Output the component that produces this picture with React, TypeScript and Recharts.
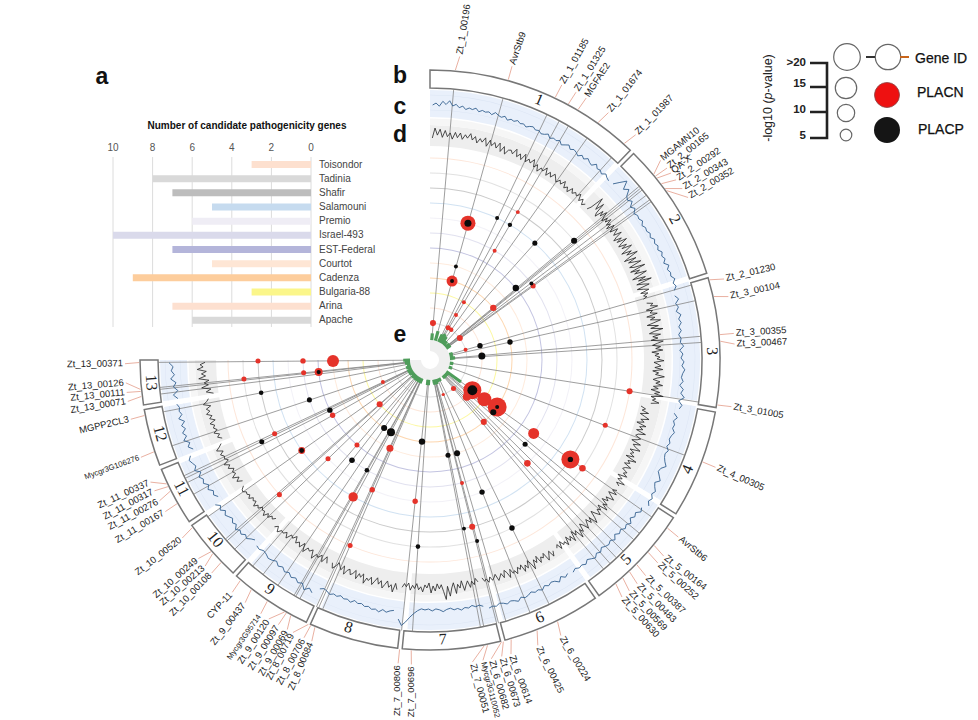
import React from "react";
import {
  Bar,
  BarChart,
  CartesianGrid,
  Pie,
  PieChart,
  PolarAngleAxis,
  PolarRadiusAxis,
  Radar,
  RadarChart,
  XAxis,
  YAxis,
} from "recharts";

// Panel a
const ISOLATES = ["Toisondor", "Tadinia", "Shafir", "Salamouni", "Premio", "Israel-493", "EST-Federal", "Courtot", "Cadenza", "Bulgaria-88", "Arina", "Apache"];
const GENE_COUNTS = [3, 8, 7, 5, 6, 10, 7, 5, 9, 3, 7, 6];
const ISOLATE_COLORS = ["#fde0cf", "#d9d9d9", "#bdbdbd", "#c6dbef", "#efedf5", "#dadaeb", "#b4b5da", "#fee6d5", "#fdcd9c", "#fbf68a", "#fde0d0", "#d9d9d9"];
const COUNT_TICKS = [0, 2, 4, 6, 8, 10];

// Chromosomes, span in degrees of the circle
const CHROMOSOMES = ["1", "2", "3", "4", "5", "6", "7", "8", "9", "10", "11", "12", "13"];
const CHR_SPANS = [45.5, 29.2, 27, 22.6, 22.3, 20.6, 20.4, 18.7, 17.3, 13, 12.2, 11.9, 9.3];

// Track c, per chromosome
const BLUE_TRACE = [
  [10, 12, 9, 14, 11, 15, 10, 12, 9, 11, 8, 10, 9, 11, 8, 10, 9, 10, 8, 11, 9, 8, 10, 7, 9, 8, 10, 8, 9, 7, 9, 10, 8, 9, 7, 8, 10, 7, 9, 8, 10, 7, 9, 11, 8, 10, 9, 7, 10, 8, 11, 9, 8, 12, 9, 10, 8, 11, 9, 8],
  [9, 15, 21, 13, 17, 11, 9, 12, 7, 10, 6, 8, 7, 9, 6, 8, 7, 9, 7, 10, 8, 10, 8, 11, 9, 11, 8, 12, 9, 11, 10, 13, 10, 12, 9],
  [8, 11, 7, 9, 6, 10, 7, 9, 6, 8, 5, 7, 6, 9, 5, 8, 6, 9, 7, 10, 8, 7, 9, 6, 10, 8, 12, 7, 11, 9],
  [5, 9, 6, 8, 7, 10, 8, 7, 9, 7, 10, 8, 9, 11, 14, 10, 9, 12, 15, 11, 13, 16, 14, 17, 15, 18],
  [13, 15, 11, 13, 10, 14, 11, 13, 10, 12, 9, 13, 10, 12, 11, 9, 12, 10, 13, 11, 9, 12, 10, 11, 9, 11],
  [9, 11, 8, 12, 9, 8, 10, 8, 11, 9, 10, 8, 10, 11, 9, 12, 10, 9, 11, 9, 8, 10, 9, 10],
  [7, 5, 6, 4, 6, 5, 7, 5, 6, 4, 5, 7, 5, 4, 6, 4, 5, 4, 6, 9, 13, 18, 22, 16],
  [8, 9, 11, 9, 12, 10, 11, 9, 10, 8, 9, 7, 10, 8, 9, 7, 9, 8, 10, 8, 7, 9],
  [16, 13, 17, 12, 14, 11, 13, 10, 12, 9, 11, 8, 10, 11, 9, 8, 10, 9],
  [6, 8, 11, 9, 12, 10, 13, 9, 11, 8, 10, 12, 9, 13, 10, 14],
  [7, 10, 8, 12, 9, 13, 11, 14, 10, 15, 12, 14, 16, 13],
  [8, 12, 9, 14, 10, 13, 9, 12, 8, 13, 9, 11, 10, 12],
  [10, 14, 9, 13, 10, 15, 11, 14, 12, 16],
];

// Track d, per chromosome
const BLACK_TRACE = [
  [12, 22, 15, 21, 13, 20, 14, 18, 12, 19, 14, 19, 13, 18, 15, 20, 14, 18, 12, 17, 14, 19, 11, 18, 13, 17, 12, 18, 10, 16, 9, 14, 15, 12, 18, 11, 15, 10, 17, 10, 14, 11, 16, 9, 13, 7, 12, 10, 15, 8, 13, 9, 14, 11, 8, 12, 9, 14, 8, 11, 7, 13, 9, 12, 10, 14, 8, 12, 7, 10],
  [8, 12, 26, 19, 14, 23, 12, 9, 18, 13, 20, 15, 11, 17, 13, 19, 12, 16, 10, 18, 14, 11, 19, 15, 12, 20, 13, 9, 17, 11, 21, 14, 10, 18, 12, 22, 16, 9, 19, 13, 24, 15, 8, 20, 11, 17, 23, 10, 14, 25, 9, 18, 12, 24, 16, 8, 21, 13, 26, 10, 17, 22, 9, 15, 20, 11, 18, 13, 16, 12],
  [14, 20, 17, 24, 12, 18, 15, 22, 11, 19, 14, 24, 17, 10, 21, 13, 25, 16, 11, 22, 14, 19, 12, 24, 18, 13, 21, 16, 23, 12, 19, 15, 20, 17, 24, 14, 18, 21, 15, 23, 13, 19, 16, 25, 18, 14, 21, 17, 24, 15, 20, 13, 22, 17, 26, 14, 19, 16, 23, 15],
  [6, 11, 8, 15, 7, 12, 17, 9, 13, 6, 16, 10, 14, 8, 18, 11, 9, 15, 12, 7, 17, 10, 13, 19, 9, 14, 11, 16, 8, 20, 12, 15, 10, 18, 13, 11, 17, 14, 19, 10, 16, 12, 21, 13, 17],
  [18, 14, 20, 12, 16, 21, 13, 17, 11, 19, 15, 22, 12, 17, 14, 20, 16, 11, 18, 23, 14, 19, 13, 17, 21, 15, 12, 20, 16, 24, 14, 18, 12, 22, 15, 19, 13, 21, 16, 18, 13, 20, 14, 17],
  [17, 22, 15, 19, 23, 14, 18, 16, 21, 13, 19, 15, 24, 17, 13, 20, 16, 22, 14, 18, 15, 21, 17, 19, 14, 22, 16, 13, 20, 15, 18, 21, 14, 17, 19, 15, 20, 16, 18, 14],
  [17, 13, 19, 15, 21, 14, 18, 23, 13, 20, 16, 25, 14, 19, 27, 17, 30, 22, 15, 19, 14, 21, 16, 23, 13, 18, 15, 22, 17, 20, 14, 19, 16, 21, 14, 18, 15, 19],
  [22, 16, 25, 18, 21, 15, 19, 23, 16, 20, 14, 18, 22, 15, 19, 17, 23, 14, 18, 15, 21, 13, 17, 19, 14, 16, 21, 13, 18, 15, 12, 17, 20, 15],
  [18, 12, 19, 13, 17, 15, 21, 13, 16, 14, 20, 12, 18, 14, 17, 11, 15, 13, 19, 14, 17, 16, 20, 15, 18],
  [11, 14, 12, 16, 13, 18, 14, 15, 13, 17, 15, 19, 14, 16, 14, 18, 15, 17, 16, 19, 18, 15],
  [13, 18, 14, 20, 15, 17, 14, 19, 16, 21, 15, 18, 17, 20, 16, 22, 18, 15],
  [12, 16, 13, 18, 14, 17, 15, 19, 13, 18, 15, 20, 16, 19, 14, 21, 17, 15],
  [9, 16, 11, 20, 13, 17, 12, 22, 15, 19, 14, 23, 17, 20, 15],
];

// Candidate genes
const GENE_NAMES = [
  "Zt_1_00196", "AvrStb9", "Zt_1_01185", "Zt_1_01325", "MGFAE2", "Zt_1_01674", "Zt_1_01987",
  "MGAMN10", "Zt_2_00165", "QA-X", "Zt_2_00292", "Zt_2_00343", "Zt_2_00352", "Zt_2_01230",
  "Zt_3_00104", "Zt_3_00355", "Zt_3_00467", "Zt_3_01005", "Zt_4_00305", "AvrStb6",
  "Zt_5_00164", "Zt_5_00252", "Zt_5_00387", "Zt_5_00483", "Zt_5_00569", "Zt_5_00630",
  "Zt_6_00224", "Zt_6_00425", "Zt_6_00614", "Zt_6_00673", "Zt_6_00682", "Mycgr3G110052", "Zt_7_00051",
  "Zt_7_00696", "Zt_7_00806", "Zt_8_00684", "Zt_8_00706", "Zt_8_00719", "Zt_9_00069", "Zt_9_00097",
  "Zt_9_00120", "Mycgr3G95714", "Zt_9_00437", "CYP-11", "Zt_10_00108", "Zt_10_00213", "Zt_10_00249",
  "Zt_10_00520", "Zt_11_00167", "Zt_11_00276", "Zt_11_00317", "Zt_11_00337", "Mycgr3G106276",
  "MGPP2CL3", "Zt_13_00071", "Zt_13_00111", "Zt_13_00126", "Zt_13_00371",
];
const GENE_POS = [
  5, 15.6, 25.5, 28.4, 30.6, 35.3, 41.9, 50.3, 50.8, 51.3, 52.7, 53.9, 54.4, 74, 77.4, 85, 86.3, 98.9, 110.5, 125.3,
  129.6, 131.4, 134.7, 136.7, 138.5, 140.3, 154, 158.4, 163.8, 165.4, 165.8, 168.6, 169.3, 183.7, 186, 203.3, 204.2, 204.7, 208.6, 209.6,
  210, 214, 217.9, 220.7, 225.9, 228.3, 228.8, 234.8, 240.4, 243.2, 244.2, 244.8, 251.6, 259, 262.8, 263.8, 264.2, 269.5,
];
const GENE_HITS = [
  3, 5, 4, 4, 5, 4, 2, 2, 1, 1, 2, 2, 2, 1, 1, 2, 1, 1, 1, 10,
  1, 1, 1, 1, 1, 1, 1, 1, 2, 2, 2, 2, 1, 2, 2, 2, 2, 1, 2, 2,
  1, 2, 2, 1, 2, 1, 1, 2, 2, 2, 1, 1, 2, 1, 2, 2, 2, 3,
];

// Where the gene names sit outside the ring
const LABEL_POS = [
  5.6, 15.6, 25.6, 28.6, 30.8, 35.8, 42.4, 49.1, 51, 52.2, 53.8, 55.8, 57.8, 74.6, 78, 85, 87, 98.8, 110.6, 125.5,
  130, 131.7, 135, 137.2, 139.2, 141, 154.6, 159.3, 164.6, 166.4, 168.4, 170, 172, 183.5, 186, 202.8, 204.4, 206.7, 207.9, 209.8,
  211.9, 213.7, 217.3, 220.4, 225.7, 227.5, 229.4, 234.3, 240.2, 242.5, 244.6, 246.4, 251.4, 258.8, 262.2, 263.9, 265.7, 269.3,
];
const LABEL_ROT = [
  -81, -71, -61, -58, -57, -52, -46, -39, -39, -39, -34, -31, -31, -13, -12, -3, -2, 10, 24, 40,
  38, 42, 44, 45, 47, 48, 59, 64, 70, 73, 74, 76, 75, -90, -90, -67, -62, -63, -60, -58,
  -57, -55, -52, -47, -46, -41, -41, -38, -31, -28, -28, -25, -20, -13, -9, -6, -5, -1,
];

// Panel e: isolate rings 1 (Apache) to 12 (Toisondor), -log10 p
const PLACN_POS = [15.5, 15.6, 30.7, 30.6, 54.3, 50.5, 30.4, 30, 4.6, 29.4, 35, 53.7, 74, 125.5, 135, 125.8, 125, 140.6, 159, 139, 125.3, 136.7, 125.3, 125.4, 98.9, 110.4, 165.4, 165.8, 269.4, 269.6, 269.7, 263.8, 264.2, 264.2, 244.9, 228.7, 240.4, 244.6, 220.7, 234.8, 204.4, 225.9, 228.2, 209.3, 204, 186, 203.3];
const PLACN_RING = [8, 4, 10, 7, 7, 4, 3, 2, 1, 1, 1, 1, 1, 2, 2, 3, 4, 1, 1, 4, 7, 8, 10, 11, 12, 11, 7, 10, 5, 7, 10, 6, 7, 11, 2, 3, 6, 10, 6, 9, 5, 8, 12, 9, 8, 8, 12];
const PLACN_P = [16.7, 12.2, 4.4, 4.4, 5.6, 7.1, 4.4, 4.4, 6.7, 5.6, 4.9, 6.7, 4.4, 20, 8.9, 15.6, 21, 5.6, 3.5, 6.7, 12.2, 7.3, 20, 7.3, 6.7, 5.6, 4.4, 6.7, 13.3, 6, 5.6, 8.9, 5.6, 5.6, 4.4, 6.7, 6, 5.6, 5.6, 7.6, 7.8, 5.6, 5.6, 10.4, 6, 6, 5.6];
const PLACP_POS = [15.5, 15.6, 15.5, 25.3, 30.6, 41.9, 50.4, 50, 53, 74, 77.3, 85.6, 125.5, 125, 129.5, 131.5, 125.3, 185.6, 169.3, 163.8, 158.5, 154, 168.6, 165.4, 263.8, 259, 251.7, 243.4, 244.1, 214, 208.4, 234.8, 217.9, 209.8, 183.7];
const PLACP_RING = [8, 4, 5, 9, 9, 9, 11, 6, 7, 2, 4, 2, 2, 4, 4, 7, 10, 4, 5, 5, 8, 11, 10, 11, 6, 10, 7, 6, 11, 4, 4, 9, 7, 7, 11];
const PLACP_P = [7.8, 4.4, 4.4, 4.4, 4.9, 5.6, 6.7, 7.1, 4.4, 6, 6, 7.8, 11, 4.4, 6.7, 5.6, 6, 7.1, 5.6, 6.7, 6, 6, 4.4, 4.4, 4.6, 5.1, 5.6, 6, 5.6, 6.7, 8.9, 5.3, 6.2, 5.1, 5.1];

const CX = 430;
const CY = 360;
const W = 978;
const H = 720;
const SANS = "'Liberation Sans', Arial, sans-serif";

const chrStart = (i: number) => CHR_SPANS.slice(0, i).reduce((a, b) => a + b, 0);
const chrData = CHROMOSOMES.map((name, i) => ({ name, span: CHR_SPANS[i] }));

const traceRows = (trace: number[][]) =>
  trace.flatMap((vals, c) =>
    vals.map((val, i) => ({ chr: c, val, pos: chrStart(c) + 0.6 + (i / (vals.length - 1)) * (CHR_SPANS[c] - 1.2) }))
  );

const pairRows = (a: { pos: number; val: number }[], b: { pos: number; val: number }[]) =>
  a.flatMap((row, i) => [row, b[i]]);

const absolute: React.CSSProperties = { position: "absolute", left: 0, top: 0 };

// radar chart used as a polar coordinate system, the shape draws from the scaled points
const PolarLayer = ({ data, inner = 0, outer = 340, domain = [0, 340], shape }: any) => (
  <RadarChart
    width={W}
    height={H}
    cx={CX}
    cy={CY}
    innerRadius={inner}
    outerRadius={outer}
    data={data}
    margin={{ top: 0, right: 0, bottom: 0, left: 0 }}
    style={absolute}
  >
    <PolarAngleAxis dataKey="pos" type="number" domain={[0, 360]} tick={false} axisLine={false} />
    <PolarRadiusAxis type="number" domain={domain} tick={false} axisLine={false} />
    <Radar dataKey="val" shape={shape} dot={false} isAnimationActive={false} />
  </RadarChart>
);

const pairs = (stroke: string, strokeWidth: number) => (props: any) => {
  const pts = props.points;
  let d = "";
  for (let i = 0; i + 1 < pts.length; i += 2) {
    d += `M${pts[i].x},${pts[i].y}L${pts[i + 1].x},${pts[i + 1].y}`;
  }
  return <path d={d} stroke={stroke} strokeWidth={strokeWidth} fill="none" />;
};

const traceShape = (stroke: string, strokeWidth: number) => (props: any) => (
  <g>
    {CHROMOSOMES.map((c, i) => (
      <polyline
        key={c}
        points={props.points
          .filter((p: any) => p.payload.chr === i)
          .map((p: any) => `${p.x},${p.y}`)
          .join(" ")}
        stroke={stroke}
        strokeWidth={strokeWidth}
        fill="none"
      />
    ))}
  </g>
);

const dots = (fill: string) => (props: any) => (
  <g>
    {props.points.map((p: any, i: number) => (
      <circle key={i} cx={p.x} cy={p.y} r={p.payload.p * 0.45} fill={fill} />
    ))}
  </g>
);

const geneNames = (props: any) => (
  <g fontFamily={SANS} fill="#222">
    {props.points.map((p: any, i: number) => (
      <text
        key={i}
        x={p.x}
        y={p.y}
        fontSize={GENE_NAMES[i].startsWith("Mycgr") ? 7.8 : 9.5}
        dominantBaseline="middle"
        textAnchor={p.payload.pos < 180 ? "start" : "end"}
        transform={`rotate(${LABEL_ROT[i]} ${p.x} ${p.y})`}
      >
        {GENE_NAMES[i]}
      </text>
    ))}
  </g>
);

const chrNames = (props: any) => (
  <g fontFamily="'Liberation Serif', serif" fontSize={16} fill="#222">
    {props.points.map((p: any, i: number) => {
      const pos = p.payload.pos;
      const rot = pos <= 92 ? pos : pos - 180;
      return (
        <text key={i} x={p.x} y={p.y} dominantBaseline="middle" textAnchor="middle" transform={`rotate(${rot} ${p.x} ${p.y})`}>
          {CHROMOSOMES[i]}
        </text>
      );
    })}
  </g>
);

const Rings = () => (
  <PieChart width={W} height={H} margin={{ top: 0, right: 0, bottom: 0, left: 0 }} style={absolute}>
    <Pie data={chrData} dataKey="span" cx={CX} cy={CY} startAngle={90} endAngle={-180} innerRadius={243} outerRadius={270} paddingAngle={1.2} fill="#e9f0fb" stroke="none" isAnimationActive={false} />
    <Pie data={chrData} dataKey="span" cx={CX} cy={CY} startAngle={90} endAngle={-180} innerRadius={249.7} outerRadius={250.2} paddingAngle={1.2} fill="#dce5f4" stroke="none" isAnimationActive={false} />
    <Pie data={chrData} dataKey="span" cx={CX} cy={CY} startAngle={90} endAngle={-180} innerRadius={264.7} outerRadius={265.2} paddingAngle={1.2} fill="#dce5f4" stroke="none" isAnimationActive={false} />
    <Pie data={chrData} dataKey="span" cx={CX} cy={CY} startAngle={90} endAngle={-180} innerRadius={214} outerRadius={235} paddingAngle={1.2} fill="#eeeeee" stroke="none" isAnimationActive={false} />
    <Pie data={chrData} dataKey="span" cx={CX} cy={CY} startAngle={90} endAngle={-180} innerRadius={235} outerRadius={241.5} paddingAngle={1.2} fill="#f6f6f6" stroke="none" isAnimationActive={false} />
    {ISOLATES.map((name, i) => {
      const r = 202 - i * 15;
      return (
        <Pie
          key={name}
          data={[{ name, span: 1 }]}
          dataKey="span"
          cx={CX}
          cy={CY}
          startAngle={90}
          endAngle={-180}
          innerRadius={r - 0.5}
          outerRadius={r + 0.5}
          fill={ISOLATE_COLORS[i]}
          fillOpacity={0.8}
          stroke="none"
          isAnimationActive={false}
        />
      );
    })}
    <Pie data={[{ name: "hub", span: 1 }]} dataKey="span" cx={CX} cy={CY} startAngle={90} endAngle={-180} innerRadius={9} outerRadius={20} fill="#efefef" stroke="none" isAnimationActive={false} />
    <Pie data={chrData} dataKey="span" cx={CX} cy={CY} startAngle={90} endAngle={-180} innerRadius={272} outerRadius={290} paddingAngle={0.9} fill="#fff" stroke="#777" strokeWidth={1.5} isAnimationActive={false} />
  </PieChart>
);

const CountBars = () => {
  const rows = ISOLATES.map((name, i) => ({ name, count: GENE_COUNTS[i], fill: ISOLATE_COLORS[i] }));
  return (
    <BarChart
      width={291}
      height={187}
      layout="vertical"
      data={rows}
      margin={{ top: 0, right: 0, bottom: 0, left: 23 }}
      style={{ position: "absolute", left: 90, top: 140 }}
    >
      <CartesianGrid horizontal={false} stroke="#dcdcdc" />
      <XAxis
        type="number"
        orientation="top"
        reversed
        domain={[0, 10]}
        ticks={COUNT_TICKS}
        height={17}
        tickSize={4}
        axisLine={false}
        tickLine={false}
        tick={{ fontSize: 10, fill: "#555", fontFamily: SANS }}
      />
      <YAxis
        type="category"
        dataKey="name"
        orientation="right"
        width={70}
        interval={0}
        axisLine={false}
        tickLine={false}
        tick={{ fontSize: 10, fill: "#444", fontFamily: SANS, textAnchor: "start" }}
      />
      <Bar dataKey="count" barSize={7} isAnimationActive={false} />
    </BarChart>
  );
};

const Annotations = () => (
  <svg width={W} height={H} style={absolute} fontFamily={SANS}>
    <g fontSize={23} fontWeight="bold" fill="#111" textAnchor="middle">
      <text x={102} y={84}>a</text>
      <text x={400} y={83}>b</text>
      <text x={400} y={114}>c</text>
      <text x={400} y={142}>d</text>
      <text x={400} y={342}>e</text>
    </g>
    <text x={247} y={129} fontSize={10} fontWeight="bold" textAnchor="middle" fill="#111">
      Number of candidate pathogenicity genes
    </text>

    {/* key */}
    <text transform="translate(772 98) rotate(-90)" fontSize={12.5} textAnchor="middle" fill="#222">
      -log10 (<tspan fontStyle="italic">p</tspan>-value)
    </text>
    <g fontSize={11.5} fontWeight="bold" fill="#222" textAnchor="end">
      <text x={806} y={66}>&gt;20</text>
      <text x={806} y={87}>15</text>
      <text x={806} y={113}>10</text>
      <text x={806} y={139}>5</text>
    </g>
    <path d="M810 63H827V138H810M810 87H827M810 112H827" stroke="#222" strokeWidth={2.6} fill="none" />
    <g fill="#fff" stroke="#666" strokeWidth={1.2}>
      <circle cx={847} cy={57} r={13.3} />
      <circle cx={846} cy={88} r={10.7} />
      <circle cx={846} cy={113} r={8.7} />
      <circle cx={846} cy={135} r={5.8} />
      <circle cx={888} cy={57} r={12.7} />
    </g>
    <path d="M866 57H875" stroke="#333" strokeWidth={2} />
    <path d="M900 57H909" stroke="#c8651b" strokeWidth={2} />
    <circle cx={887} cy={95} r={12.5} fill="#ee1111" stroke="#844" strokeWidth={0.8} />
    <circle cx={887} cy={130} r={13} fill="#151515" />
    <g fontSize={14} fill="#111" stroke="#111" strokeWidth={0.25}>
      <text x={915} y={63}>Gene ID</text>
      <text x={917} y={97}>PLACN</text>
      <text x={918} y={134}>PLACP</text>
    </g>
  </svg>
);

export default function App() {
  const inner = GENE_POS.map((pos) => ({ pos, val: 22 }));
  const outer = GENE_POS.map((pos) => ({ pos, val: 272 }));
  const ringEdge = GENE_POS.map((pos) => ({ pos, val: 291 }));
  const linkEnd = LABEL_POS.map((pos) => ({ pos, val: 305 }));
  const hubBase = GENE_POS.map((pos) => ({ pos, val: 20 }));
  const hubTop = GENE_POS.map((pos, i) => ({ pos, val: 20 + GENE_HITS[i] * 1.6 + 2 }));
  const nameRows = LABEL_POS.map((pos) => ({ pos, val: 307 }));
  const chrNameRows = CHROMOSOMES.map((_, i) => ({ pos: chrStart(i) + CHR_SPANS[i] / 2, val: 281 }));
  const placn = PLACN_POS.map((pos, i) => ({ pos, val: PLACN_RING[i], p: PLACN_P[i] }));
  const placp = PLACP_POS.map((pos, i) => ({ pos, val: PLACP_RING[i], p: PLACP_P[i] }));

  return (
    <div style={{ position: "absolute", left: 0, top: 0, width: W, height: H, background: "#fff", overflow: "hidden" }}>
      <Rings />
      <PolarLayer data={pairRows(inner, outer)} shape={pairs("#858585", 0.8)} />
      <PolarLayer data={traceRows(BLACK_TRACE)} inner={210} outer={245} domain={[0, 35]} shape={traceShape("#222", 0.8)} />
      <PolarLayer data={traceRows(BLUE_TRACE)} inner={245} outer={270} domain={[0, 25]} shape={traceShape("#33608f", 0.9)} />
      <PolarLayer data={pairRows(hubBase, hubTop)} shape={pairs("#4f9d5b", 3.2)} />
      <PolarLayer data={pairRows(ringEdge, linkEnd)} shape={pairs("#e6a796", 0.9)} />
      <PolarLayer data={placn} inner={37} outer={202} domain={[1, 12]} shape={dots("#e5332a")} />
      <PolarLayer data={placp} inner={37} outer={202} domain={[1, 12]} shape={dots("#0c0c0c")} />
      <PolarLayer data={nameRows} shape={geneNames} />
      <PolarLayer data={chrNameRows} shape={chrNames} />
      <CountBars />
      <Annotations />
    </div>
  );
}
